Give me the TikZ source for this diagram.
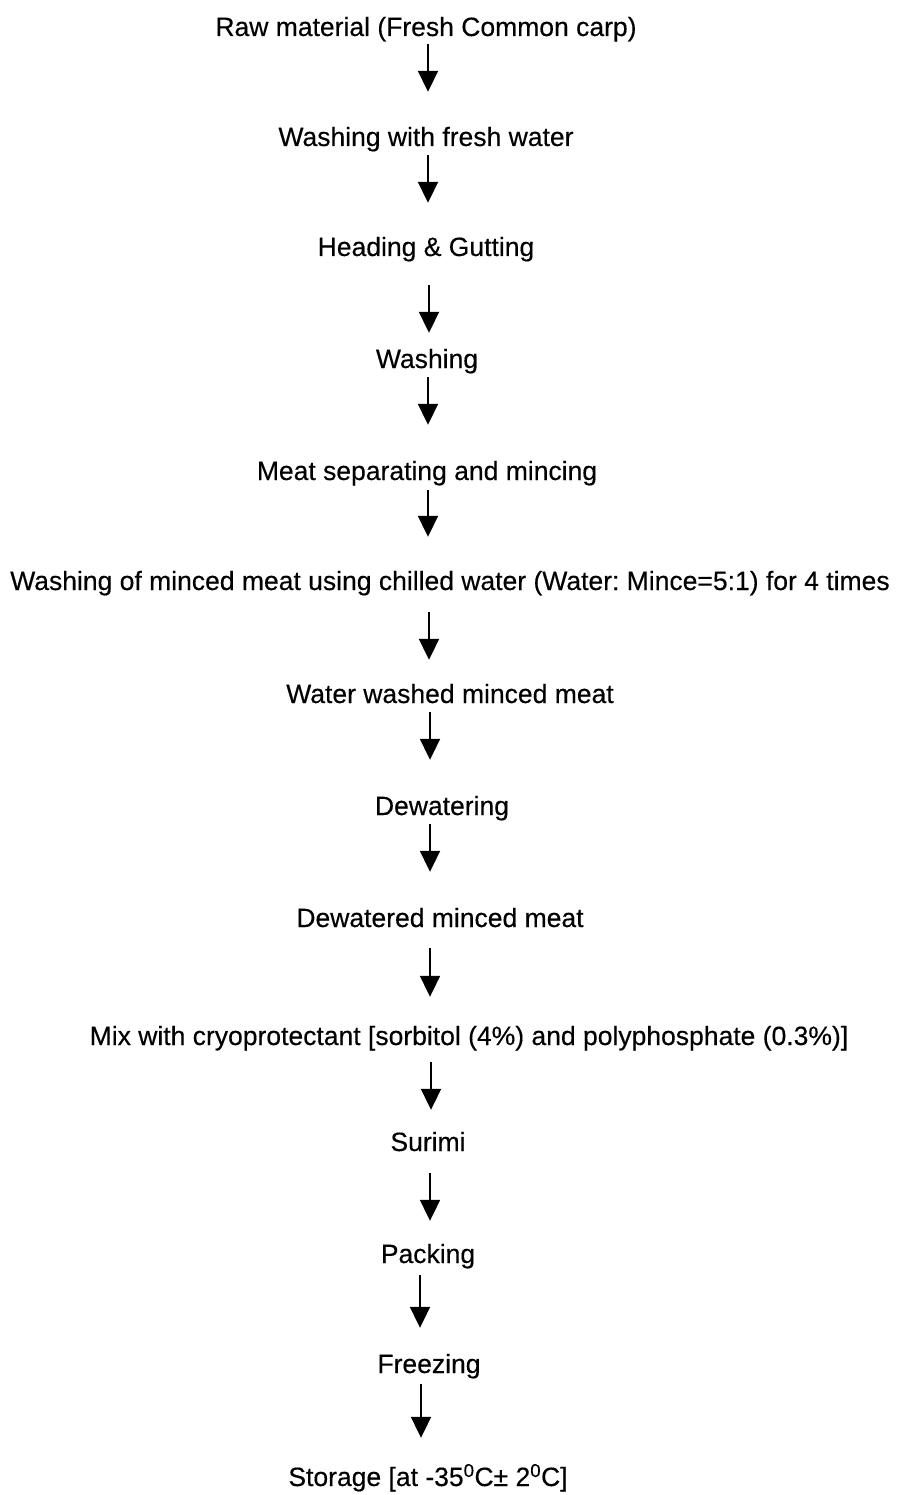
\documentclass[tikz,border=0pt]{standalone}
\usepackage{fontspec}
\setmainfont{Liberation Sans}
\newfontfamily\flowfont[FakeBold=0.3]{Liberation Sans}
\usetikzlibrary{arrows.meta}
\frenchspacing

\begin{document}
\begin{tikzpicture}[x=1pt, y=-1pt,
	main/.style = {anchor=base, inner sep=0pt, text height=20pt, text depth=6pt, font=\flowfont\fontsize{26.5}{30}\selectfont},
	flow/.style = {line width=2pt, -{Triangle[width=20pt, length=21pt]}}]
		\useasboundingbox (0,0) rectangle (901,1495);
		\node[main] (1) at (426,36) {Raw material (Fresh Common carp)};
		\node[main] (2) at (426,146) {Washing with fresh water};
		\node[main] (3) at (426,256) {Heading \& Gutting};
		\node[main] (4) at (427,368) {Washing};
		\node[main] (5) at (427,480) {Meat separating and mincing};
		\node[main] (6) at (450,590) {Washing of minced meat using chilled water (Water: Mince=5:1) for 4 times};
		\node[main] (7) at (450,703) {Water washed minced meat};
		\node[main] (8) at (442,815) {Dewatering};
		\node[main] (9) at (440,927) {Dewatered minced meat};
		\node[main] (10) at (469,1045) {Mix with cryoprotectant [sorbitol (4\%) and polyphosphate (0.3\%)]};
		\node[main] (11) at (428,1151) {Surimi};
		\node[main] (12) at (428,1263) {Packing};
		\node[main] (13) at (429,1373) {Freezing};
		\node[main] (14) at (428,1486) {Storage [at -35\textsuperscript{0}C± 2\textsuperscript{0}C]};
		\foreach \a/\b/\x/\s/\e in {1/2/428/2/34, 2/3/428/3/33, 3/4/429/23/15, 4/5/428/3/35,
			5/6/428/4/33, 6/7/429/16/23, 7/8/430/3/35, 8/9/430/3/35, 9/10/430/15/28,
			10/11/431/11/21, 11/12/430/16/22, 12/13/420/6/25, 13/14/421/5/28}
			\draw[flow, shorten <=\s pt, shorten >=\e pt] (\a.south -| \x,0) -- (\b.north -| \x,0);
	\end{tikzpicture}
\end{document}
